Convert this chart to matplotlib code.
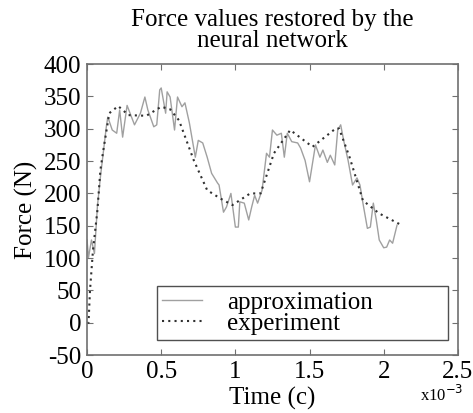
import numpy as np
import matplotlib
matplotlib.use("Agg")
import matplotlib.pyplot as plt

plt.rcParams['font.family'] = ['Liberation Serif', 'DejaVu Serif']
plt.rcParams['axes.unicode_minus'] = False

# time in units of 1e-3 s
t_exp = [0.0, 0.01, 0.02, 0.04, 0.07, 0.09, 0.11, 0.15, 0.21, 0.28,
         0.4, 0.5, 0.56, 0.62, 0.67, 0.72, 0.81, 0.9, 0.98, 1.1,
         1.17, 1.26, 1.37, 1.52, 1.68, 1.7, 1.77, 1.86, 1.97, 2.12]
f_exp = [0, 0, 50, 112, 174, 236, 267, 324, 335, 321,
         320, 334, 330, 313, 282, 251, 205, 192, 182, 200,
         200, 262, 298, 272, 301, 300, 256, 189, 169, 151]

t_app = [0.0, 0.01, 0.03, 0.05, 0.07, 0.09, 0.13, 0.14, 0.17, 0.2,
         0.22, 0.24, 0.27, 0.3, 0.32, 0.36, 0.39, 0.41, 0.45, 0.47,
         0.49, 0.5, 0.53, 0.54, 0.56, 0.59, 0.61, 0.64, 0.66, 0.69,
         0.73, 0.75, 0.78, 0.81, 0.84, 0.88, 0.89, 0.92, 0.94, 0.97,
         1.0, 1.02, 1.03, 1.06, 1.09, 1.11, 1.13, 1.15, 1.18, 1.21,
         1.23, 1.25, 1.28, 1.31, 1.33, 1.35, 1.38, 1.42, 1.44, 1.47,
         1.5, 1.54, 1.57, 1.59, 1.62, 1.64, 1.67, 1.69, 1.71, 1.73,
         1.76, 1.79, 1.82, 1.84, 1.86, 1.89, 1.91, 1.93, 1.95, 1.97,
         2.0, 2.02, 2.04, 2.06, 2.09]
f_app = [128, 101, 128, 107, 180, 225, 303, 318, 298, 293,
         329, 287, 336, 318, 306, 324, 349, 329, 303, 306,
         360, 363, 324, 357, 349, 298, 349, 334, 340, 309,
         256, 282, 278, 256, 231, 216, 213, 171, 179, 200,
         148, 148, 187, 185, 159, 179, 197, 185, 205, 262,
         256, 298, 290, 293, 256, 293, 280, 278, 270, 251,
         218, 275, 256, 267, 248, 259, 244, 298, 306, 282,
         251, 213, 224, 213, 185, 146, 148, 185, 159, 128,
         116, 117, 128, 123, 151]

fig = plt.figure(figsize=(4.73, 4.13), dpi=100)
ax = fig.add_axes([0.184, 0.140, 0.784, 0.705])

ax.plot(t_app, f_app, color='#a0a0a0', lw=1.0, label='approximation')
ax.plot(t_exp, f_exp, color='#303030', lw=1.5, ls=(0, (1, 2)), label='experiment')

ax.set_xlim(0, 2.5)
ax.set_ylim(-50, 400)
ax.set_xticks([0, 0.5, 1, 1.5, 2, 2.5])
ax.set_xticklabels(['0', '0.5', '1', '1.5', '2', '2.5'])
ax.set_yticks(np.arange(-50, 401, 50))
ax.tick_params(direction='in', top=True, right=True, labelsize=18,
               length=4, color='#707070', pad=4)
for s in ax.spines.values():
    s.set_color('#707070')
    s.set_linewidth(1.2)

ax.set_title('Force values restored by the\nneural network', fontsize=18,
             linespacing=0.95, pad=12)
ax.set_xlabel('Time (c)', fontsize=18, labelpad=3)
ax.set_ylabel('Force (N)', fontsize=18, labelpad=4)
ax.text(463 / 473, 1 - 405 / 413, 'x10$^{-3}$', transform=fig.transFigure,
        fontsize=12, ha='right', va='bottom')

leg = ax.legend(loc='lower left', fontsize=18, fancybox=False, framealpha=1,
                edgecolor='#505050', borderpad=0.2, handlelength=1.6,
                labelspacing=-0.05, handletextpad=1.0, borderaxespad=0,
                mode='expand', bbox_to_anchor=(0.189, 0.052, 0.784, 0.17))
leg.get_frame().set_linewidth(1.0)

fig.savefig('out.png', dpi=100)
